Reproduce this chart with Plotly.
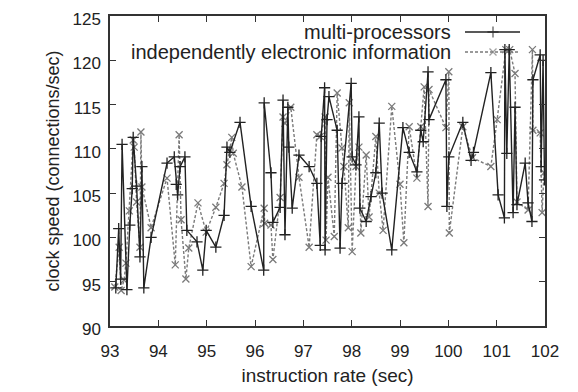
import plotly.graph_objects as go

# multi-processors (solid, "+")
mp_x = [93.12, 93.18, 93.22, 93.25, 93.35, 93.41, 93.46, 93.48, 93.55, 93.62, 93.66, 93.70, 93.85,
        94.18, 94.33, 94.37, 94.40, 94.45, 94.55, 94.59, 94.80, 94.92, 94.99, 95.19, 95.36, 95.42,
        95.48, 95.69, 95.92, 96.18, 96.19, 96.33, 96.37, 96.52, 96.58, 96.62, 96.68, 96.70, 96.77,
        96.91, 97.12, 97.28, 97.35, 97.37, 97.44, 97.45, 97.49, 97.53, 97.70, 97.76, 97.80, 97.99,
        98.01, 98.09, 98.15, 98.17, 98.30, 98.40, 98.50, 98.57, 98.63, 98.83, 99.06, 99.19, 99.35,
        99.43, 99.48, 99.58, 99.60, 99.95, 99.97, 100.01, 100.30, 100.47, 100.52, 100.88, 101.03,
        101.16, 101.17, 101.21, 101.26, 101.34, 101.38, 101.42, 101.59, 101.65, 101.73, 101.75,
        101.90, 101.92, 101.96, 101.99]
mp_y = [94.3, 101.0, 95.3, 110.5, 94.1, 101.4, 105.5, 111.3, 105.8, 97.8, 108.0, 94.3, 100.0,
        108.4, 109.1, 106.0, 104.8, 108.0, 109.1, 100.8, 99.5, 96.3, 100.8, 98.9, 102.5, 110.2,
        109.6, 113.0, 103.5, 96.3, 115.2, 107.3, 101.7, 103.4, 115.5, 100.3, 114.7, 110.2, 103.3,
        109.3, 108.0, 106.1, 99.1, 111.4, 116.9, 98.6, 113.3, 115.9, 112.1, 98.8, 106.1, 117.4,
        109.1, 108.2, 113.6, 103.3, 101.8, 104.6, 107.3, 112.9, 105.0, 98.6, 112.4, 109.6, 107.4,
        112.1, 110.8, 118.7, 113.3, 117.8, 103.5, 109.1, 113.0, 108.7, 109.6, 118.6, 104.8,
        102.2, 121.2, 109.5, 121.2, 102.8, 114.7, 103.7, 108.4, 103.9, 101.8, 117.8,
        120.6, 108.0, 120.0, 106.5]

# independently electronic information (dashed, "x")
ie_x = [93.10, 93.19, 93.23, 93.29, 93.33, 93.40, 93.48, 93.50, 93.55, 93.62, 93.64, 93.66, 93.85,
        94.18, 94.35, 94.43, 94.47, 94.57, 94.63, 94.82, 94.99, 95.19, 95.36, 95.42, 95.52, 95.55,
        95.73, 95.92, 96.19, 96.20, 96.33, 96.37, 96.52, 96.58, 96.62, 96.74, 96.91, 97.12, 97.28,
        97.35, 97.45, 97.47, 97.51, 97.64, 97.70, 97.80, 97.84, 97.93, 97.95, 98.01, 98.09, 98.15,
        98.19, 98.30, 98.36, 98.50, 98.57, 98.65, 98.83, 99.00, 99.08, 99.19, 99.35, 99.43, 99.50,
        99.58, 99.60, 99.95, 100.01, 100.02, 100.30, 100.50, 100.88, 101.01, 101.19, 101.27,
        101.38, 101.42, 101.65, 101.74, 101.75, 101.90, 101.94, 101.98]
ie_y = [94.4, 98.9, 94.0, 95.2, 97.1, 103.0, 111.0, 110.2, 104.0, 98.9, 111.9, 105.7, 101.1,
        106.7, 96.9, 111.6, 102.0, 95.3, 98.8, 103.9, 100.6, 103.4, 106.1, 108.2, 111.3, 109.5,
        105.7, 96.7, 103.3, 101.6, 101.4, 97.5, 104.5, 113.6, 112.9, 114.7, 106.8, 98.9, 111.6,
        111.4, 113.6, 99.7, 106.8, 100.1, 116.3, 110.1, 108.0, 101.1, 115.2, 98.4, 108.0, 110.2,
        100.5, 109.3, 102.3, 111.4, 105.0, 100.8, 114.8, 106.0, 99.4, 112.5, 106.7, 112.5, 117.0,
        103.5, 116.7, 112.4, 118.7, 100.5, 112.5, 109.0, 108.0, 113.3, 121.2, 121.2,
        118.5, 104.0, 103.1, 121.2, 112.1, 111.8, 102.8, 107.3]

x_ticks = [93, 94, 95, 96, 97, 98, 99, 100, 101, 102]
y_ticks = [90, 95, 100, 105, 110, 115, 120, 125]
series_names = ["multi-processors", "independently electronic information"]

FONT = "Liberation Sans, Arial, sans-serif"
TXT = "#222222"

fig = go.Figure()
fig.add_trace(go.Scatter(
    x=ie_x, y=ie_y, mode="lines+markers", name=series_names[1], showlegend=False,
    line=dict(color="#7a7a7a", width=1.4, dash="3px,2px"),
    marker=dict(symbol="x-thin", size=7, line=dict(color="#7a7a7a", width=1.3))))
fig.add_trace(go.Scatter(
    x=mp_x, y=mp_y, mode="lines+markers", name=series_names[0], showlegend=False,
    line=dict(color="#222222", width=1.4),
    marker=dict(symbol="cross-thin", size=8, line=dict(color="#222222", width=1.3))))

# legend samples (pixel space overlay)
fig.add_trace(go.Scatter(
    x=[465, 493, 520], y=[32, 32, 32], xaxis="x2", yaxis="y2", mode="lines+markers",
    showlegend=False, hoverinfo="skip",
    line=dict(color="#222222", width=1.4),
    marker=dict(symbol="cross-thin", size=[0, 8, 0], line=dict(color="#222222", width=1.3))))
fig.add_trace(go.Scatter(
    x=[465, 493, 520], y=[52, 52, 52], xaxis="x2", yaxis="y2", mode="lines+markers",
    showlegend=False, hoverinfo="skip",
    line=dict(color="#7a7a7a", width=1.4, dash="3px,2px"),
    marker=dict(symbol="x-thin", size=[0, 7, 0], line=dict(color="#7a7a7a", width=1.3))))

for name, yy in zip(series_names, [32, 52]):
    fig.add_annotation(x=453, y=yy, xref="x2", yref="y2", text=name, showarrow=False,
                       xanchor="right", yanchor="middle",
                       font=dict(family=FONT, size=20, color=TXT))

axis_common = dict(showgrid=False, zeroline=False, ticks="inside", ticklen=6,
                   tickcolor="#333333", showline=True, linecolor="#333333", linewidth=1.5,
                   mirror="ticks", automargin=False, ticklabeloverflow="allow",
                   tickfont=dict(family=FONT, size=17, color=TXT))

fig.update_layout(
    width=570, height=384,
    margin=dict(l=102, r=33, t=8, b=66),
    paper_bgcolor="white", plot_bgcolor="white",
    font=dict(family=FONT, size=18, color=TXT),
    xaxis=dict(range=[93, 102], tickvals=x_ticks, ticktext=[str(v) for v in x_ticks],
               ticklabelstandoff=9,
               title=dict(text="instruction rate (sec)", standoff=9,
                          font=dict(family=FONT, size=19, color=TXT)),
               **axis_common),
    yaxis=dict(range=[90, 125], tickvals=y_ticks, ticktext=[str(v) for v in y_ticks],
               ticklabelstandoff=4, ticklabelshift=3,
               title=dict(text="clock speed (connections/sec)", standoff=8,
                          font=dict(family=FONT, size=18, color=TXT)),
               **axis_common),
    xaxis2=dict(range=[110, 545], overlaying="x", visible=False, fixedrange=True),
    yaxis2=dict(range=[326, 16], overlaying="y", visible=False, fixedrange=True),
)

fig.write_html("out.html")
